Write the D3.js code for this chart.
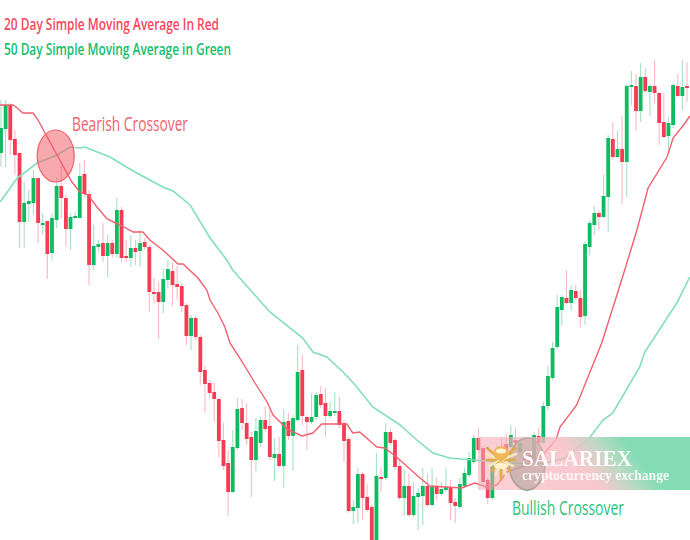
<!DOCTYPE html>
<html><head><meta charset="utf-8">
<script src="https://cdnjs.cloudflare.com/ajax/libs/d3/7.8.5/d3.min.js"></script>
<style>html,body{margin:0;padding:0;background:#fff}svg{display:block}</style>
</head><body><svg id="c" width="690" height="540"></svg>
<script>
const opens=[387,411,435,401,387,318,336,337,362,316,319,287,320,354,342,311,322,322,366,346,275,293,297,284,297,286,330,284,282,292,289,298,293,248,248,238,260,269,256,254,235,204,222,203,170,157,148,141,100,77,48,92,132,117,103,80,97,120,114,82,86,74,119,104,120,170,123,118,123,146,137,124,128,129,117,101,29,32,66,43,33,-2,63,62,108,100,74,42,54,25,43,44,54,35,53,46,50,53,38,33,54,65,78,102,92,60,42,72,93,96,93,100,88,88,85,80,104,97,134,162,193,230,242,237,249,242,224,293,315,327,323,343,401,383,391,378,454,454,429,463,448,454,447,418,404,415,454,444,454];
const closes=[412,435,400,385,318,337,339,362,317,317,286,322,354,342,311,323,324,364,346,275,294,296,284,297,286,330,282,282,292,288,297,293,248,246,238,261,271,255,253,234,204,222,203,168,156,147,141,99,74,48,93,131,117,101,80,109,120,111,83,86,74,118,104,122,168,124,118,123,145,135,124,129,129,115,99,29,33,66,42,30,-2,64,61,108,97,73,42,54,25,44,47,54,35,53,46,51,53,37,34,56,67,82,102,90,58,42,75,88,85,88,105,97,97,80,78,105,97,134,164,192,233,243,237,250,242,223,296,317,327,323,344,402,383,391,378,454,455,429,463,449,454,447,417,403,417,455,444,453,453];
const highs=[440,440,437,410,387,358,350,370,362,327,319,327,363,375,345,327,328,377,380,350,315,300,317,305,300,342,333,300,305,300,310,302,295,262,258,272,280,278,274,257,237,225,224,205,174,160,157,142,117,90,110,142,141,137,108,122,123,134,130,102,103,131,127,125,195,185,125,147,148,154,152,138,148,143,120,103,40,72,68,56,35,87,73,117,112,102,80,70,67,58,52,72,66,72,62,58,72,60,42,62,72,88,106,112,94,62,78,95,102,106,115,112,100,92,90,108,112,138,174,198,245,245,270,255,255,250,299,320,334,330,365,405,418,409,424,456,469,466,477,472,456,480,448,447,423,457,466,480,478];
const lows=[373,373,385,365,292,292,318,325,297,305,261,280,312,322,293,290,321,322,343,255,270,288,278,263,282,282,278,278,273,275,273,290,228,237,201,227,252,234,240,228,195,190,200,155,127,142,118,82,70,24,47,90,110,95,43,69,93,108,80,59,72,52,100,69,118,115,90,116,120,132,103,122,124,112,78,27,16,17,20,28,-6,-6,48,60,95,70,40,24,23,23,10,15,33,33,40,44,48,20,17,31,52,63,76,88,56,36,40,68,80,84,85,92,82,75,70,77,95,95,130,160,191,215,236,229,240,213,215,285,305,310,322,308,380,382,336,343,435,409,418,447,424,437,395,402,387,412,443,430,438];

const ma20Session=[-0.2,2.6,3.5,4.7,6.9,8,9.5,12.1,15.3,17,18.8,20.7,22.9,26.1,28.5,30.6,32.1,34.9,38.2,39.3,42.5,44.4,45.1,46.8,48.3,49.4,52.2,54.8,57.4,58.7,61.7,64.9,67.3,69.2,74.6,75.9,77.4,81.1,82.8,85.6,89.9,92.5,99.4,102.2,104.8,107,109.1,113.5,116.9,119.7,120.6,124.2,129.6,133.9,137.2,139.6,143.7,145,147.6,148.6];
const ma20Value=[435,435,432,427,427,420,407,385,358,348,345,333,321,314,308,308,300,290,276,276,262,250,240,227,213,197,177,157,138,125,111,104,107,116,116,107,108,93,92,82,64,54,52,57,53,55,68,75,85,100,113,135,197,260,310,352,383,402,417,424];
const ma50Session=[-0.2,3.5,7.8,12.1,14.9,17,18.1,23.5,28.5,34.9,37.1,40.8,45.1,48.7,50,58,65.1,67.3,70.3,73.8,76.4,80.2,86.1,89.7,93.2,96.8,101.8,107.6,113.5,117.3,121.7,123.8,126.6,129.9,132,137.8,138.9,145.8,148.6];
const ma50Value=[338,362,377,385,393,392,393,383,369,353,349,335,302,280,270,228,202,188,183,168,155,133,115,100,87,82,80,78,76,77,82,90,100,120,127,173,188,237,263];

const legendLabels=["20 Day Simple Moving Average In Red","50 Day Simple Moving Average in Green"];
const noteLabels=["Bearish Crossover","Bullish Crossover"];
const crossSessions=[11.8,113.5];
const crossValues=[384,76];

const UP="#0dbb60",DOWN="#f63a54",UPW="#a6e2c5",DOWNW="#fabac4";
const svg=d3.select("#c");
const x=d3.scaleLinear().domain([0,148]).range([1,687]);
const y=d3.scaleLinear().domain([0,540]).range([540,0]);
const defs=svg.append("defs");
const g=defs.append("linearGradient").attr("id","wm").attr("x1","0").attr("y1","1").attr("x2","1").attr("y2","0.8");
[[0,"#f2a3ad",.5],[.3,"#f5aeb8",.62],[.56,"#f6bcc2",.82],[.72,"#b5d8c0",.95],[.84,"#84dcb4",1],[1,"#84dcb4",1]]
 .forEach(s=>g.append("stop").attr("offset",s[0]).attr("stop-color",s[1]).attr("stop-opacity",s[2]));
const soft=defs.append("filter").attr("id","soft").attr("filterUnits","userSpaceOnUse").attr("x",0).attr("y",0).attr("width",690).attr("height",540);
soft.append("feGaussianBlur").attr("stdDeviation",.45);

const root=svg.append("g").attr("filter","url(#soft)");
const idx=d3.range(opens.length);
root.append("g").selectAll("line").data(idx).join("line")
 .attr("x1",i=>x(i)).attr("x2",i=>x(i)).attr("y1",i=>y(highs[i])).attr("y2",i=>y(lows[i]))
 .attr("stroke",i=>closes[i]>=opens[i]?UPW:DOWNW).attr("stroke-width",1.1);
root.append("g").selectAll("rect").data(idx).join("rect")
 .attr("x",i=>x(i)-1.9).attr("width",3.8)
 .attr("y",i=>y(Math.max(opens[i],closes[i])))
 .attr("height",i=>Math.max(2,Math.abs(y(opens[i])-y(closes[i]))))
 .attr("fill",i=>closes[i]>=opens[i]?UP:DOWN);
const line=(xs,ys)=>d3.line().x(i=>x(xs[i])).y(i=>y(ys[i]))(d3.range(xs.length));
root.append("path").attr("d",line(ma50Session,ma50Value)).attr("fill","none").attr("stroke","#83dfb8").attr("stroke-width",1.6);
root.append("path").attr("d",line(ma20Session,ma20Value)).attr("fill","none").attr("stroke","#f2606f").attr("stroke-width",1.4);

root.append("ellipse").attr("cx",x(crossSessions[0])).attr("cy",y(crossValues[0])).attr("rx",18.5).attr("ry",26)
 .attr("fill","#f0616c").attr("fill-opacity",.55).attr("stroke","#f0616c").attr("stroke-width",1.2);
root.append("ellipse").attr("cx",x(crossSessions[1])).attr("cy",y(crossValues[1])).attr("rx",18).attr("ry",26)
 .attr("fill","#4f9a70").attr("fill-opacity",.6).attr("stroke","#3f8f63").attr("stroke-width",1.4);

const wm=svg.append("g").attr("filter","url(#soft)");
wm.append("rect").attr("x",478).attr("y",437).attr("width",212).attr("height",53).attr("fill","url(#wm)");
const logo=wm.append("g");
const feathers=[[-14,-12],[-15,-6],[-14,0],[-12,6],[-9,11],[-5,15],[0,20],[5,15],[9,11],[12,6],[14,0],[15,-6],[14,-12]];
feathers.forEach((f,i)=>logo.append("line").attr("x1",501).attr("y1",460).attr("x2",501+f[0]).attr("y2",460+f[1])
 .attr("stroke",i%2?"#f7e6b8":"#e2a944").attr("stroke-width",2.6).attr("stroke-linecap","round"));
logo.append("ellipse").attr("cx",501).attr("cy",453).attr("rx",7.5).attr("ry",7).attr("fill","#eeb85a");
logo.append("ellipse").attr("cx",501).attr("cy",451).attr("rx",5).attr("ry",2.5).attr("fill","#fdf3d2");
logo.append("ellipse").attr("cx",501).attr("cy",466).attr("rx",7).attr("ry",3).attr("fill","#fff2cf");
wm.append("text").attr("x",522).attr("y",465.5).attr("font-family","Liberation Serif").attr("font-weight",700).attr("font-size",24)
 .attr("textLength",110).attr("lengthAdjust","spacingAndGlyphs").attr("fill","#fff").attr("fill-opacity",.92).text("SALARIEX");
wm.append("text").attr("x",522).attr("y",480).attr("font-family","Liberation Serif").attr("font-weight",700).attr("font-size",15)
 .attr("textLength",147).attr("lengthAdjust","spacingAndGlyphs").attr("fill","#fff").attr("fill-opacity",.88).text("cryptocurrency exchange");

const txt=(s,xp,yp,size,w,len,col)=>svg.append("text").attr("x",xp).attr("y",yp).attr("font-family","Open Sans").attr("font-size",size)
 .attr("font-weight",w).attr("textLength",len).attr("lengthAdjust","spacingAndGlyphs").attr("fill",col).text(s);
txt(legendLabels[0],4,30,16,600,215,"#f9475f");
txt(legendLabels[1],4,55,16,600,227,"#14c06c");
txt(noteLabels[0],72,131,20,400,116,"#f2616e");
txt(noteLabels[1],512,515,20,400,112,"#2cc47c");
</script></body></html>
